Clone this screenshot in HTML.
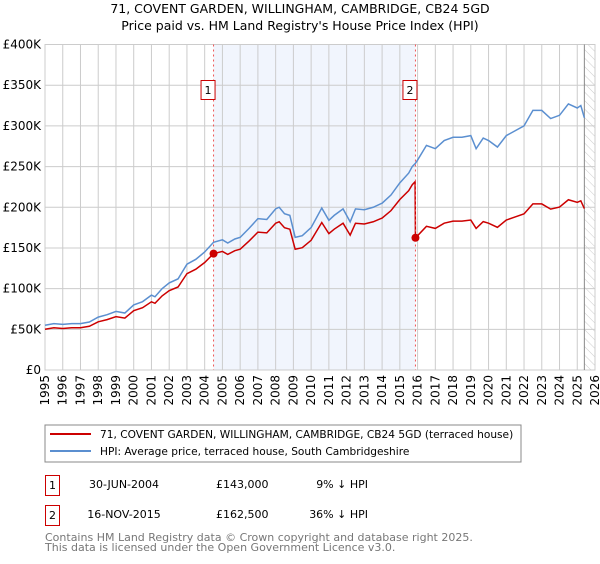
<!DOCTYPE html>
<html><head><meta charset="utf-8"><style>
body{margin:0;background:#fff;font-family:"DejaVu Sans","Liberation Sans",sans-serif;}
svg text{font-family:"DejaVu Sans","Liberation Sans",sans-serif;}
</style></head><body>
<svg id="c" width="600" height="560" xmlns="http://www.w3.org/2000/svg">
<defs><pattern id="hatch" width="6" height="6" patternUnits="userSpaceOnUse" patternTransform="rotate(-45)"><line x1="0" y1="0" x2="0" y2="6" stroke="#ccc" stroke-width="1"/></pattern></defs>
<text x="300" y="13" text-anchor="middle" font-size="12.5">71, COVENT GARDEN, WILLINGHAM, CAMBRIDGE, CB24 5GD</text>
<text x="300" y="30" text-anchor="middle" font-size="12.5">Price paid vs. HM Land Registry's House Price Index (HPI)</text>
<g id="plot"></g>
<rect x="45" y="425" width="476" height="37" fill="#fff" stroke="#888"/>
<line x1="50" y1="434" x2="91" y2="434" stroke="#cc0000" stroke-width="2"/>
<text x="100" y="438" font-size="10.6">71, COVENT GARDEN, WILLINGHAM, CAMBRIDGE, CB24 5GD (terraced house)</text>
<line x1="50" y1="451" x2="91" y2="451" stroke="#5b8fd0" stroke-width="2"/>
<text x="100" y="455" font-size="10.6">HPI: Average price, terraced house, South Cambridgeshire</text>
<rect x="45.5" y="475.5" width="14" height="20" fill="none" stroke="#cc0000"/>
<text x="52.5" y="489" text-anchor="middle" font-size="11">1</text>
<text x="124" y="488" text-anchor="middle" font-size="11">30-JUN-2004</text>
<text x="216" y="488" font-size="11">£143,000</text>
<text x="368" y="488" text-anchor="end" font-size="11">9% ↓ HPI</text>
<rect x="45.5" y="505.5" width="14" height="20" fill="none" stroke="#cc0000"/>
<text x="52.5" y="519" text-anchor="middle" font-size="11">2</text>
<text x="124" y="518" text-anchor="middle" font-size="11">16-NOV-2015</text>
<text x="216" y="518" font-size="11">£162,500</text>
<text x="368" y="518" text-anchor="end" font-size="11">36% ↓ HPI</text>
<text x="45" y="541" font-size="11" fill="#777">Contains HM Land Registry data © Crown copyright and database right 2025.</text>
<text x="45" y="551" font-size="11" fill="#777">This data is licensed under the Open Government Licence v3.0.</text>
</svg>
<script>
const hpiYears=[1995,1995.5,1996,1996.5,1997,1997.5,1998,1998.5,1999,1999.5,2000,2000.5,2001,2001.2,2001.6,2002,2002.5,2003,2003.5,2004,2004.5,2005,2005.3,2005.7,2006,2006.5,2007,2007.5,2008,2008.2,2008.5,2008.8,2009.1,2009.5,2010,2010.6,2011,2011.3,2011.8,2012.2,2012.5,2013,2013.5,2014,2014.5,2015,2015.5,2015.7,2015.88,2016,2016.5,2017,2017.5,2018,2018.5,2019,2019.3,2019.7,2020,2020.5,2021,2021.5,2022,2022.5,2023,2023.5,2024,2024.5,2025,2025.2,2025.4];
const hpiValues=[55,57,56,57,57,59,65,68,72,70,80,84,92,90,100,107,112,130,136,145,157,160,156,161,163,174,186,185,198,200,192,190,163,165,175,199,184,190,198,182,198,197,200,205,215,230,242,250,254,258,276,272,282,286,286,288,272,285,282,274,288,294,300,319,319,309,313,327,322,325,310];
const saleYears=[2004.5,2015.88];
const salePrices=[143,162.5];
const yTicks=[0,50,100,150,200,250,300,350,400];
const yTickLabels=["£0","£50K","£100K","£150K","£200K","£250K","£300K","£350K","£400K"];
const xTicks=[1995,1996,1997,1998,1999,2000,2001,2002,2003,2004,2005,2006,2007,2008,2009,2010,2011,2012,2013,2014,2015,2016,2017,2018,2019,2020,2021,2022,2023,2024,2025,2026];

const L=45,R=595,T=44.5,B=370,x0=1995,x1=2026,yMax=400;
const X=v=>L+(v-x0)/(x1-x0)*(R-L);
const Y=v=>B-v/yMax*(B-T);
const NS="http://www.w3.org/2000/svg";
const g=document.getElementById('plot');
function mk(tag,attrs,parent){const e=document.createElementNS(NS,tag);for(const k in attrs)e.setAttribute(k,attrs[k]);(parent||g).appendChild(e);return e;}
function interp(t){for(let i=0;i<hpiYears.length-1;i++){if(t>=hpiYears[i]&&t<=hpiYears[i+1]){const f=(t-hpiYears[i])/(hpiYears[i+1]-hpiYears[i]);return hpiValues[i]+f*(hpiValues[i+1]-hpiValues[i]);}}return hpiValues[hpiValues.length-1];}

let r=mk('rect',{x:X(saleYears[0]),y:T,width:X(saleYears[1])-X(saleYears[0]),height:B-T,fill:'#eef3fd',opacity:0.8});


let h=mk('rect',{x:X(2025.4),y:T,width:R-X(2025.4),height:B-T,fill:'url(#hatch)'});



yTicks.forEach((v,i)=>{
  let l=mk('line',{x1:L,x2:R,y1:Y(v),y2:Y(v),stroke:'#ccc'});
  
  
  let t=mk('text',{x:L-4,y:Y(v)+4,'text-anchor':'end','font-size':'12'});
  t.textContent=yTickLabels[i];
  
  
});
xTicks.forEach(v=>{
  let l=mk('line',{x1:X(v),x2:X(v),y1:T,y2:B,stroke:'#ccc'});
  
  
  let t=mk('text',{x:0,y:0,'text-anchor':'end','font-size':'12',transform:`translate(${X(v)+4},${B+5}) rotate(-90)`});
  t.textContent=v;
  
  
});
let fb=mk('rect',{x:L,y:T,width:R-L,height:B-T,fill:'none',stroke:'#ccc'});


let el=mk('line',{x1:X(2025.4),x2:X(2025.4),y1:T,y2:B,stroke:'#888'});



let hp=mk('polyline',{points:hpiYears.map((t,i)=>X(t)+','+Y(hpiValues[i])).join(' '),fill:'none',stroke:'#5b8fd0','stroke-width':1.5});



const f1=salePrices[0]/interp(saleYears[0]), f2=salePrices[1]/interp(saleYears[1]);
let pts=[];
hpiYears.forEach((t,i)=>{ if(t<saleYears[1]) pts.push([t,hpiValues[i]*f1]); });
pts.push([saleYears[1]-0.02,interp(saleYears[1])*f1]);
pts.push([saleYears[1],salePrices[1]]);
hpiYears.forEach((t,i)=>{ if(t>saleYears[1]) pts.push([t,hpiValues[i]*f2]); });
let pl=mk('polyline',{points:pts.map(p=>X(p[0])+','+Y(p[1])).join(' '),fill:'none',stroke:'#cc0000','stroke-width':1.5});



saleYears.forEach((t,i)=>{
  let v=mk('line',{x1:X(t),x2:X(t),y1:T,y2:B,stroke:'#ee5555','stroke-dasharray':'2,3'});
  
  
  let c=mk('circle',{cx:X(t),cy:Y(salePrices[i]),r:4,fill:'#cc0000'});
  
  
  let b=mk('rect',{x:X(t)-12.5,y:80.5,width:14,height:19,fill:'#fff',stroke:'#cc0000'});
  
  
  let tx=mk('text',{x:X(t)-5.5,y:94,'text-anchor':'middle','font-size':'11'});
  tx.textContent=String(i+1);
  
  
});
</script>
</body></html>
